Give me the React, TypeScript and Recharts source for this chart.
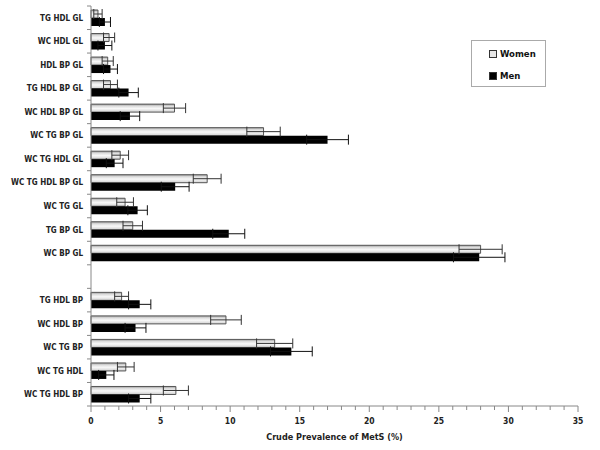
import React from "react"
import { BarChart, Bar, XAxis, YAxis, ErrorBar } from "recharts"

const categories = [
  "TG HDL GL",
  "WC HDL GL",
  "HDL BP GL",
  "TG HDL BP GL",
  "WC HDL BP GL",
  "WC TG BP GL",
  "WC TG HDL GL",
  "WC TG HDL BP GL",
  "WC TG GL",
  "TG BP GL",
  "WC BP GL",
  "",
  "TG HDL BP",
  "WC HDL BP",
  "WC TG BP",
  "WC TG HDL",
  "WC TG HDL BP",
]
const women = [0.5, 1.3, 1.2, 1.4, 6.0, 12.4, 2.1, 8.35, 2.45, 3.0, 28.0, null, 2.2, 9.7, 13.2, 2.5, 6.1]
const womenErr = [0.3, 0.4, 0.4, 0.5, 0.8, 1.2, 0.6, 1.0, 0.6, 0.7, 1.55, null, 0.5, 1.1, 1.3, 0.6, 0.9]
const men = [1.0, 1.0, 1.4, 2.7, 2.8, 17.0, 1.7, 6.05, 3.35, 9.9, 27.9, null, 3.5, 3.2, 14.4, 1.1, 3.5]
const menErr = [0.4, 0.5, 0.5, 0.7, 0.7, 1.5, 0.6, 1.0, 0.7, 1.15, 1.85, null, 0.8, 0.75, 1.5, 0.55, 0.8]
const xTicks = Array.from({ length: 36 }, (_, i) => i)
const seriesNames = ["Women", "Men"]

const data = categories.map((c, i) => ({
  name: c,
  women: women[i],
  womenErr: womenErr[i],
  men: men[i],
  menErr: menErr[i],
}))

const FONT = "'DejaVu Sans Condensed', 'DejaVu Sans', Verdana, sans-serif"
const TOP = 6
const PLOT_H = 400
const BAND = PLOT_H / categories.length

function YTick(props: any) {
  const { x, y, payload, index } = props
  return (
    <g>
      <line x1={x - 4} y1={y - BAND / 2} x2={x} y2={y - BAND / 2} stroke="#888" />
      {index === categories.length - 1 && (
        <line x1={x - 4} y1={y + BAND / 2} x2={x} y2={y + BAND / 2} stroke="#888" />
      )}
      <text x={x - 8} y={y} dy={3} textAnchor="end" fontSize={8} fontWeight="bold" fill="#222" fontFamily={FONT}>
        {payload.value}
      </text>
    </g>
  )
}

function XTick(props: any) {
  const { x, y, payload } = props
  const major = payload.value % 5 === 0
  return (
    <g>
      {major ? (
        <line x1={x} y1={y - 2} x2={x} y2={y + 4} stroke="#888" />
      ) : (
        <line x1={x} y1={y - 2} x2={x} y2={y + 2} stroke="#888" />
      )}
      {major && (
        <text x={x} y={y + 16} textAnchor="middle" fontSize={8.5} fontWeight="bold" fill="#222" fontFamily={FONT}>
          {payload.value}
        </text>
      )}
    </g>
  )
}

export default function App() {
  return (
    <div style={{ position: "absolute", left: 0, top: 0, width: 600, height: 450, background: "#fff" }}>
      <BarChart
        width={600}
        height={450}
        data={data}
        layout="vertical"
        margin={{ top: TOP, right: 22, bottom: 0, left: 0 }}
        barGap={0}
        barCategoryGap={4}
      >
        <defs>
          <linearGradient id="womenFill" x1="0" y1="0" x2="0" y2="1">
            <stop offset="0%" stopColor="#9a9a9a" />
            <stop offset="25%" stopColor="#dcdcdc" />
            <stop offset="55%" stopColor="#f8f8f8" />
            <stop offset="100%" stopColor="#d0d0d0" />
          </linearGradient>
        </defs>
        <XAxis
          type="number"
          domain={[0, 35]}
          ticks={xTicks}
          interval={0}
          tickLine={false}
          tickSize={0}
          tick={<XTick />}
          stroke="#888"
          height={44}
          label={{
            value: "Crude Prevalence of MetS (%)",
            position: "insideBottom",
            offset: 10,
            style: { fontSize: 9, fontWeight: "bold", fill: "#222", fontFamily: FONT },
          }}
        />
        <YAxis
          type="category"
          dataKey="name"
          width={91}
          interval={0}
          tickLine={false}
          tickSize={0}
          tickMargin={0}
          tick={<YTick />}
          stroke="#888"
        />
        <Bar dataKey="women" name={seriesNames[0]} fill="url(#womenFill)" stroke="#555" strokeWidth={1} barSize={8} isAnimationActive={false}>
          <ErrorBar dataKey="womenErr" direction="x" width={5} stroke="#333" strokeWidth={1} />
        </Bar>
        <Bar dataKey="men" name={seriesNames[1]} fill="#000" barSize={8} isAnimationActive={false}>
          <ErrorBar dataKey="menErr" direction="x" width={5} stroke="#111" strokeWidth={1} />
        </Bar>
      </BarChart>
      <div
        style={{
          position: "absolute",
          left: 471,
          top: 40,
          width: 75,
          height: 47,
          boxSizing: "border-box",
          border: "1px solid #aaa",
          fontFamily: FONT,
          fontSize: 9.5,
          fontWeight: "bold",
          color: "#111",
        }}
      >
        {seriesNames.map((s, i) => (
          <div key={s} style={{ position: "absolute", left: 17, top: 7 + i * 22, display: "flex", alignItems: "center" }}>
            <span
              style={{
                display: "inline-block",
                width: 6,
                height: 6,
                border: "1px solid #333",
                background: i === 0 ? "#e6e6e6" : "#000",
                marginRight: 3,
              }}
            />
            {s}
          </div>
        ))}
      </div>
    </div>
  )
}
